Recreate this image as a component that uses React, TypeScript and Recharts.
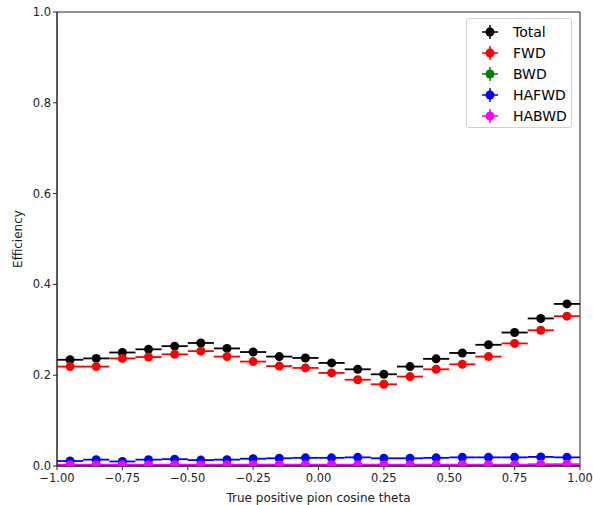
import { ComposedChart, Scatter, ErrorBar, XAxis, YAxis, ReferenceArea } from "recharts";

// bin centres of cos(theta), width 0.1
const binCenters = [
  -0.95, -0.85, -0.75, -0.65, -0.55, -0.45, -0.35, -0.25, -0.15, -0.05,
  0.05, 0.15, 0.25, 0.35, 0.45, 0.55, 0.65, 0.75, 0.85, 0.95,
];
const binHalfWidth = 0.05;

const totalEff = [
  0.234, 0.237, 0.25, 0.257, 0.264, 0.271, 0.259, 0.251, 0.241, 0.238,
  0.227, 0.213, 0.202, 0.219, 0.236, 0.249, 0.267, 0.294, 0.325, 0.357,
];
const fwdEff = [
  0.219, 0.219, 0.237, 0.24, 0.246, 0.253, 0.241, 0.23, 0.22, 0.216,
  0.205, 0.19, 0.18, 0.197, 0.213, 0.224, 0.241, 0.27, 0.299, 0.33,
];
const bwdEff = [
  0.001, 0.001, 0.001, 0.001, 0.001, 0.001, 0.001, 0.001, 0.001, 0.001,
  0.001, 0.001, 0.001, 0.001, 0.001, 0.001, 0.001, 0.001, 0.001, 0.001,
];
const hafwdEff = [
  0.011, 0.014, 0.01, 0.014, 0.015, 0.013, 0.014, 0.016, 0.017, 0.018,
  0.018, 0.019, 0.017, 0.017, 0.018, 0.019, 0.019, 0.019, 0.02, 0.019,
];
const habwdEff = [
  0.003, 0.003, 0.003, 0.003, 0.003, 0.003, 0.003, 0.003, 0.003, 0.003,
  0.003, 0.003, 0.003, 0.003, 0.003, 0.003, 0.003, 0.003, 0.004, 0.004,
];

const xTicks = [-1, -0.75, -0.5, -0.25, 0, 0.25, 0.5, 0.75, 1];
const yTicks = [0, 0.2, 0.4, 0.6, 0.8, 1];

const series = [
  { name: "Total", color: "#000000", values: totalEff },
  { name: "FWD", color: "#ff0000", values: fwdEff },
  { name: "BWD", color: "#008000", values: bwdEff },
  { name: "HAFWD", color: "#0000ff", values: hafwdEff },
  { name: "HABWD", color: "#ff00ff", values: habwdEff },
];

const font = "'DejaVu Sans', sans-serif";

const fmtX = (v: number) => v.toFixed(2).replace("-", "\u2212");
const fmtY = (v: number) => v.toFixed(1);

const Dot = (color: string) => (props: any) => {
  const { cx, cy } = props;
  if (cx == null || cy == null) return null;
  return <circle cx={cx} cy={cy} r={4.5} fill={color} />;
};

const LegendBox = () => (
  <div
    style={{
      position: "absolute",
      left: 466,
      top: 18,
      width: 106,
      height: 110,
      boxSizing: "border-box",
      border: "1px solid #d0d0d0",
      borderRadius: 3,
      background: "rgba(255,255,255,0.8)",
      padding: "2px 0 0 8px",
      fontFamily: font,
      fontSize: 14,
      color: "#000",
    }}
  >
    {series.map((s) => (
      <div key={s.name} style={{ display: "flex", alignItems: "center", height: 21.2 }}>
        <svg width={30} height={16} style={{ marginRight: 8 }}>
          <line x1={15} y1={1} x2={15} y2={15} stroke={s.color} strokeWidth={1.5} />
          <line x1={7} y1={8} x2={23} y2={8} stroke={s.color} strokeWidth={1.5} />
          <circle cx={15} cy={8} r={4.5} fill={s.color} />
        </svg>
        <span>{s.name}</span>
      </div>
    ))}
  </div>
);

export default function App() {
  return (
    <div style={{ position: "absolute", left: 0, top: 0, width: 593, height: 505, background: "#fff" }}>
      <ComposedChart width={593} height={505} margin={{ top: 12, right: 13, bottom: 0, left: 0 }}>
        <XAxis
          type="number"
          dataKey="x"
          domain={[-1, 1]}
          ticks={xTicks}
          tickFormatter={fmtX}
          allowDataOverflow
          height={39}
          tickSize={4}
          stroke="#222"
          tick={{ fill: "#222", fontSize: 11.5, fontFamily: font, dy: 2 }}
          label={{ value: "True positive pion cosine theta", position: "insideBottom", offset: 3, fill: "#222", fontSize: 12, fontFamily: font }}
        />
        <YAxis
          type="number"
          dataKey="y"
          domain={[0, 1]}
          ticks={yTicks}
          tickFormatter={fmtY}
          allowDataOverflow
          width={57}
          tickSize={4}
          stroke="#222"
          tick={{ fill: "#222", fontSize: 11.5, fontFamily: font, dy: 0 }}
          label={{ value: "Efficiency", angle: -90, position: "insideLeft", offset: 18, fill: "#222", fontSize: 12, fontFamily: font, style: { textAnchor: "middle" } }}
        />
        <ReferenceArea x1={-1} x2={1} y1={0} y2={1} fill="none" stroke="#222" strokeWidth={1} ifOverflow="extendDomain" />
        {series.map((s) => (
          <Scatter
            key={s.name}
            name={s.name}
            data={binCenters.map((x, i) => ({ x, y: s.values[i], ex: binHalfWidth }))}
            fill={s.color}
            shape={Dot(s.color)}
            isAnimationActive={false}
          >
            <ErrorBar dataKey="ex" direction="x" width={0} stroke={s.color} strokeWidth={1.8} />
          </Scatter>
        ))}
      </ComposedChart>
      <LegendBox />
    </div>
  );
}
